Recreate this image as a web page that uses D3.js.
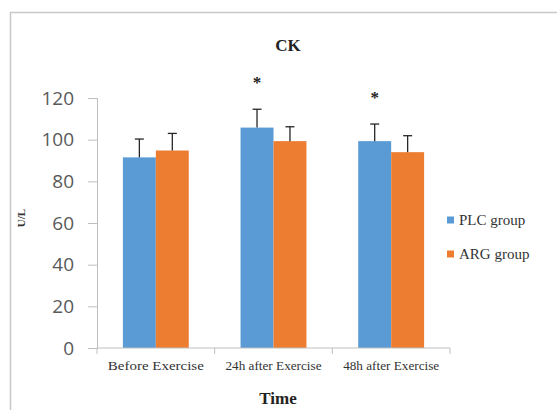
<!DOCTYPE html>
<html><head><meta charset="utf-8">
<script src="https://cdn.jsdelivr.net/npm/d3@7"></script>
<style>html,body{margin:0;padding:0;background:#fff;}svg{display:block;}</style>
</head><body>
<svg id="chart" width="557" height="410"></svg>
<script>
const categories = ["Before Exercise", "24h after Exercise", "48h after Exercise"];
const seriesNames = ["PLC group", "ARG group"];
const plcValues = [91.5, 105.8, 99.3];
const argValues = [94.8, 99.3, 94.0];
const plcErrors = [8.8, 8.8, 8.2];
const argErrors = [8.2, 6.9, 7.9];
const significant = [false, true, true];
const yTicks = [0, 20, 40, 60, 80, 100, 120];
const colors = ["#5B9BD5", "#ED7D31"];

(function () {
const SERIF = "'Liberation Serif', 'DejaVu Serif', serif";
const svg = d3.select("#chart");
// outer frame
svg.append("rect").attr("x", 10.5).attr("y", 12.5).attr("width", 560).attr("height", 410)
  .attr("fill", "#fff").attr("stroke", "#c8c8c8").attr("stroke-width", 1.5);

const mLeft = 97, mRight = 450, mTop = 98, mBottom = 348;
const x = d3.scaleBand().domain(categories).range([mLeft, mRight]).paddingInner(0.44).paddingOuter(0.22);
const xs = d3.scaleBand().domain(seriesNames).range([0, x.bandwidth()]);
const y = d3.scaleLinear().domain([0, 120]).range([mBottom, mTop]);

const series = [
  {name: seriesNames[0], values: plcValues, errors: plcErrors, color: colors[0]},
  {name: seriesNames[1], values: argValues, errors: argErrors, color: colors[1]}
];

// bars
series.forEach(s => {
  const g = svg.append("g");
  g.selectAll("rect").data(categories).join("rect")
    .attr("x", (c) => x(c) + xs(s.name))
    .attr("y", (c, i) => y(s.values[i]))
    .attr("width", xs.bandwidth())
    .attr("height", (c, i) => y(0) - y(s.values[i]))
    .attr("fill", s.color);
});

// error bars
series.forEach(s => {
  const g = svg.append("g").attr("stroke", "#262626").attr("stroke-width", 1.3);
  categories.forEach((c, i) => {
    const cx = x(c) + xs(s.name) + xs.bandwidth() / 2;
    g.append("line").attr("x1", cx).attr("x2", cx).attr("y1", y(s.values[i])).attr("y2", y(s.values[i] + s.errors[i]));
    g.append("line").attr("x1", cx - 4.5).attr("x2", cx + 4.5).attr("y1", y(s.values[i] + s.errors[i])).attr("y2", y(s.values[i] + s.errors[i]));
  });
});

// significance stars
categories.forEach((c, i) => {
  if (!significant[i]) return;
  const cx = x(c) + xs(seriesNames[0]) + xs.bandwidth() / 2;
  svg.append("text").attr("x", cx).attr("y", y(plcValues[i] + plcErrors[i]) - 21)
    .attr("text-anchor", "middle").attr("font-family", SERIF).attr("font-weight", "bold")
    .attr("font-size", 17).attr("fill", "#222").text("*");
});

// y axis
const yAxis = d3.axisLeft(y).tickValues(yTicks).tickSize(9).tickPadding(14);
const ya = svg.append("g").attr("transform", `translate(${mLeft},0)`).call(yAxis);
ya.select(".domain").attr("stroke", "#bfbfbf");
ya.selectAll(".tick line").attr("stroke", "#bfbfbf");
ya.selectAll(".tick text").attr("font-family", "'Open Sans', 'Liberation Sans', sans-serif").attr("font-size", 19).attr("fill", "#595959");

// x axis
const xa = svg.append("g").attr("transform", `translate(0,${mBottom})`);
xa.append("line").attr("x1", mLeft).attr("x2", mRight).attr("y1", 0).attr("y2", 0).attr("stroke", "#bfbfbf");
const boundaries = categories.map(c => x(c) - x.step() * x.paddingInner() / 2).concat([mRight]);
boundaries.forEach(b => xa.append("line").attr("x1", b).attr("x2", b).attr("y1", 0).attr("y2", 6).attr("stroke", "#bfbfbf"));
xa.selectAll("text.cat").data(categories).join("text").attr("class", "cat")
  .attr("x", c => x(c) + x.bandwidth() / 2).attr("y", 22)
  .attr("text-anchor", "middle").attr("font-family", SERIF).attr("font-size", 13)
  .attr("fill", "#333").attr("textLength", 96).attr("lengthAdjust", "spacingAndGlyphs")
  .text(c => c);

// titles
svg.append("text").attr("x", 288).attr("y", 51).attr("text-anchor", "middle")
  .attr("font-family", SERIF).attr("font-weight", "bold").attr("font-size", 17).attr("fill", "#222").text("CK");
svg.append("text").attr("x", 278).attr("y", 404).attr("text-anchor", "middle")
  .attr("font-family", SERIF).attr("font-weight", "bold").attr("font-size", 17).attr("fill", "#222").text("Time");
svg.append("text").attr("transform", "translate(25,218) rotate(-90)").attr("text-anchor", "middle")
  .attr("font-family", SERIF).attr("font-weight", "bold").attr("font-size", 11).attr("fill", "#333").text("U/L");

// legend
const lg = svg.append("g").attr("transform", "translate(447,0)");
series.forEach((s, i) => {
  const ly = 220 + i * 34;
  lg.append("rect").attr("x", 0).attr("y", ly - 3.5).attr("width", 7).attr("height", 7).attr("fill", s.color);
  lg.append("text").attr("x", 12).attr("y", ly + 5).attr("font-family", SERIF).attr("font-size", 15)
    .attr("fill", "#333").text(s.name);
});
})();
</script>
</body></html>
